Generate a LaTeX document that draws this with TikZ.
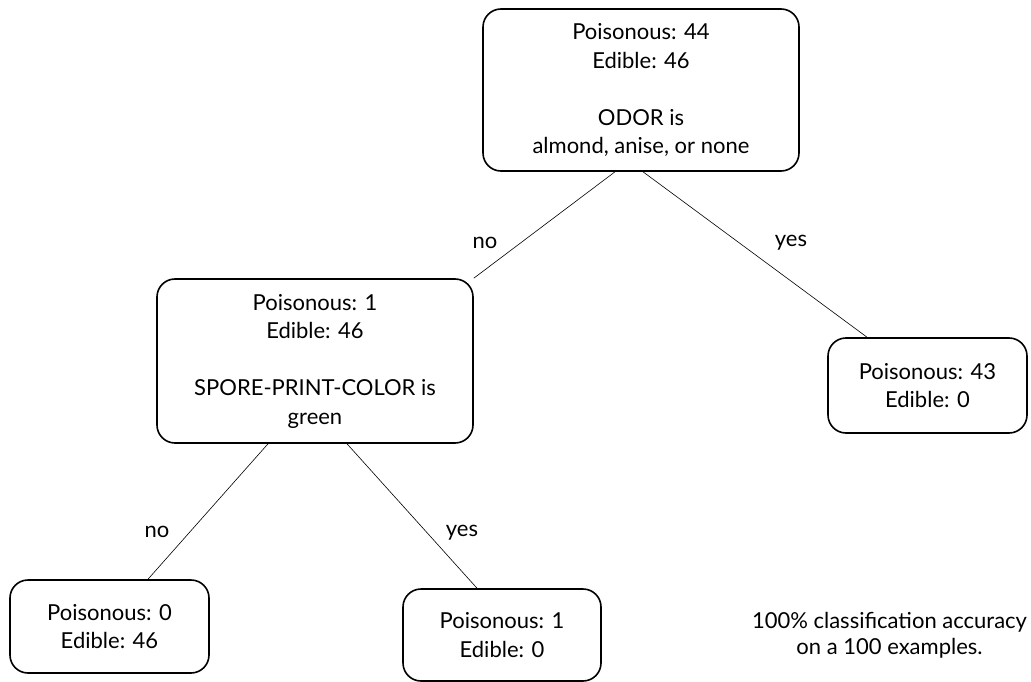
\documentclass[tikz,border=0pt]{standalone}
\usepackage{fontspec}
\setmainfont{Lato}
\usetikzlibrary{calc}
\begin{document}
\begin{tikzpicture}[x=1pt,y=-1pt,
  box/.style={draw, line width=1.6pt, rounded corners=18pt, align=center,
    inner sep=0pt, font=\fontsize{22}{28.5}\selectfont},
  edge/.style={line width=0.6pt},
  lbl/.style={font=\fontsize{22}{28}\selectfont, inner sep=0pt}]
  \useasboundingbox (0,0) rectangle (1031,682);

  % decision nodes and leaves
  \node[box, minimum width=316pt, minimum height=162pt] (root) at (641,90)
    {Poisonous: 44\\Edible: 46\\[28.5pt]ODOR is\\almond, anise, or none};
  \node[box, minimum width=316pt, minimum height=164pt] (spore) at (315,361)
    {Poisonous: 1\\Edible: 46\\[28.5pt]SPORE-PRINT-COLOR is\\green};
  \node[box, minimum width=199pt, minimum height=95pt] (leafA) at (927.5,385.5)
    {Poisonous: 43\\Edible: 0};
  \node[box, minimum width=199pt, minimum height=93pt] (leafB) at (109.5,626.5)
    {Poisonous: 0\\Edible: 46};
  \node[box, minimum width=198pt, minimum height=92pt] (leafC) at (502,635)
    {Poisonous: 1\\Edible: 0};

  % branches
  \draw[edge] ([xshift=-26pt]root.south) -- (spore.north east);
  \draw[edge] ([xshift=2pt]root.south) -- ([xshift=-60.5pt]leafA.north);
  \draw[edge] ([xshift=-47pt]spore.south) -- ([xshift=38.5pt]leafB.north);
  \draw[edge] ([xshift=32pt]spore.south) -- ([xshift=-25pt]leafC.north);

  % branch labels
  \node[lbl] (l1) at (485,243) {no};
  \node[lbl] (l2) at (791,243) {yes};
  \node[lbl] (l3) at (157,532) {no};
  \node[lbl] (l4) at (462,533) {yes};

  % note
  \node[lbl, align=center, font=\fontsize{22}{26}\selectfont] (note) at (889.5,635)
    {100\% classification accuracy\\on a 100 examples.};
\end{tikzpicture}
\end{document}
